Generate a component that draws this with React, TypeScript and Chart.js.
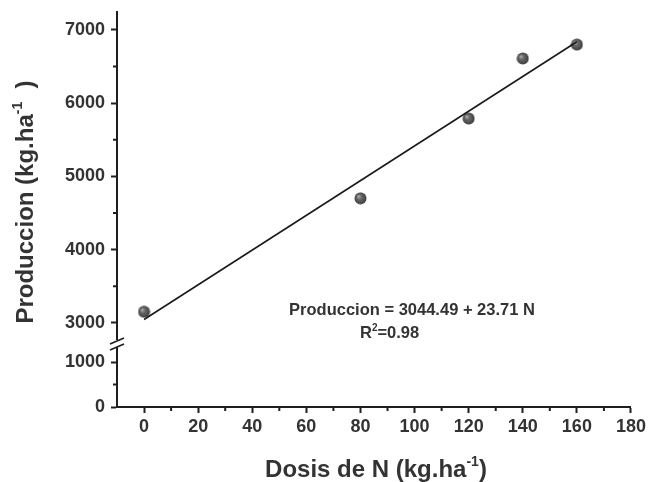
import React, { useEffect, useRef } from "react";
import { Chart, registerables } from "chart.js";

Chart.register(...registerables);

const dosisN = [0, 80, 120, 140, 160];
const produccion = [3150, 4700, 5790, 6610, 6800];
const fitX = [0, 160];
const fitY = [3044.49, 6837.99];
const xTickValues = [0, 20, 40, 60, 80, 100, 120, 140, 160, 180];
const xMinorTicks = [10, 30, 50, 70, 90, 110, 130, 150, 170];
const yTopTickValues = [3000, 4000, 5000, 6000, 7000];
const yTopMinorTicks = [3500, 4500, 5500, 6500];
const yBotTickValues = [0, 1000];
const yBotMinorTicks = [500];
const equationText = "Produccion = 3044.49 + 23.71 N";
const r2Label = "=0.98";

const FONT = "'Liberation Sans', Arial, sans-serif";
const AXIS_COLOR = "#1e1e1e";
const TEXT_COLOR = "#333333";

function makeSphere(): HTMLCanvasElement {
  const size = 13;
  const c = document.createElement("canvas");
  c.width = size;
  c.height = size;
  const ctx = c.getContext("2d")!;
  const g = ctx.createRadialGradient(4.5, 4.5, 0.5, 6.5, 6.5, 6.5);
  g.addColorStop(0, "#a8a8a8");
  g.addColorStop(0.35, "#666666");
  g.addColorStop(1, "#3a3a3a");
  ctx.fillStyle = g;
  ctx.beginPath();
  ctx.arc(6.5, 6.5, 6, 0, Math.PI * 2);
  ctx.fill();
  return c;
}

function drawSupText(
  ctx: CanvasRenderingContext2D,
  parts: { t: string; sup?: boolean }[],
  size: number,
  supSize: number,
  x: number,
  y: number,
  align: "center" | "left"
) {
  const main = `bold ${size}px ${FONT}`;
  const sup = `bold ${supSize}px ${FONT}`;
  let total = 0;
  const widths = parts.map((p) => {
    ctx.font = p.sup ? sup : main;
    const w = ctx.measureText(p.t).width;
    total += w;
    return w;
  });
  let cx = align === "center" ? x - total / 2 : x;
  ctx.textAlign = "left";
  ctx.textBaseline = "alphabetic";
  parts.forEach((p, i) => {
    ctx.font = p.sup ? sup : main;
    ctx.fillText(p.t, cx, p.sup ? y - size * 0.45 : y);
    cx += widths[i];
  });
}

const decorPlugin = {
  id: "decor",
  afterDraw(chart: any) {
    const ctx = chart.ctx as CanvasRenderingContext2D;
    const xs = chart.scales.x;
    const yt = chart.scales.yTop;
    const yb = chart.scales.yBot;
    const area = chart.chartArea;
    ctx.save();
    // minor ticks
    ctx.strokeStyle = AXIS_COLOR;
    ctx.lineWidth = 2;
    ctx.beginPath();
    xMinorTicks.forEach((v) => {
      const px = xs.getPixelForValue(v);
      ctx.moveTo(px, area.bottom);
      ctx.lineTo(px, area.bottom + 4);
    });
    yTopMinorTicks.forEach((v) => {
      const py = yt.getPixelForValue(v);
      ctx.moveTo(area.left, py);
      ctx.lineTo(area.left - 4, py);
    });
    yBotMinorTicks.forEach((v) => {
      const py = yb.getPixelForValue(v);
      ctx.moveTo(area.left, py);
      ctx.lineTo(area.left - 4, py);
    });
    ctx.stroke();

    // axis break
    const by = yt.bottom;
    ctx.fillStyle = "#ffffff";
    ctx.fillRect(area.left - 3, by - 4, 6, 7);
    ctx.strokeStyle = AXIS_COLOR;
    ctx.lineWidth = 1.6;
    ctx.beginPath();
    ctx.moveTo(area.left - 7, by);
    ctx.lineTo(area.left + 7, by - 6);
    ctx.moveTo(area.left - 7, by + 6);
    ctx.lineTo(area.left + 7, by);
    ctx.stroke();

    // titles
    ctx.fillStyle = TEXT_COLOR;
    drawSupText(
      ctx,
      [{ t: "Dosis de N (kg.ha" }, { t: "-1", sup: true }, { t: ")" }],
      24,
      14,
      (area.left + area.right) / 2 + 2,
      477,
      "center"
    );
    ctx.save();
    ctx.translate(33, 202);
    ctx.rotate(-Math.PI / 2);
    drawSupText(
      ctx,
      [{ t: "Produccion (kg.ha" }, { t: "-1", sup: true }, { t: "  )" }],
      24,
      14,
      0,
      0,
      "center"
    );
    ctx.restore();

    // equation
    drawSupText(ctx, [{ t: equationText }], 16.5, 10, 412, 315, "center");
    drawSupText(ctx, [{ t: "R" }, { t: "2", sup: true }, { t: r2Label }], 16.5, 10, 360, 338, "left");
    ctx.restore();
  },
};

export default function App() {
  const ref = useRef<HTMLCanvasElement>(null);
  useEffect(() => {
    document.body.style.margin = "0";
    const sphere = makeSphere();
    const tickFont = { family: FONT, size: 18, weight: "bold" as const };
    const plain = (v: any) => String(v);
    const fitY_ = (s: any) => {
      s.width = 117;
      s.paddingTop = 0;
      s.paddingBottom = 0;
    };
    const chart = new Chart(ref.current!, {
      type: "scatter",
      data: {
        datasets: [
          {
            label: "Produccion",
            data: dosisN.map((x, i) => ({ x, y: produccion[i] })),
            yAxisID: "yTop",
            pointStyle: sphere as any,
            pointRadius: 6,
            order: 2,
          },
          {
            label: "Ajuste",
            data: fitX.map((x, i) => ({ x, y: fitY[i] })),
            yAxisID: "yTop",
            showLine: true,
            borderColor: "#1a1a1a",
            borderWidth: 1.6,
            pointRadius: 0,
            order: 1,
          },
        ],
      },
      options: {
        animation: false,
        responsive: true,
        maintainAspectRatio: false,
        layout: { padding: { top: 12, right: 17, left: 0, bottom: 0 } },
        plugins: { legend: { display: false }, tooltip: { enabled: false } },
        scales: {
          x: {
            type: "linear",
            min: -10,
            max: 180,
            afterBuildTicks: (s: any) => {
              s.ticks = xTickValues.map((v) => ({ value: v }));
            },
            afterFit: (s: any) => {
              s.height = 75;
            },
            grid: {
              drawOnChartArea: false,
              drawTicks: true,
              tickLength: 6,
              tickWidth: 2,
              tickColor: AXIS_COLOR,
            },
            border: { color: AXIS_COLOR, width: 2 },
            ticks: { font: tickFont, color: TEXT_COLOR, padding: 3, maxRotation: 0, autoSkip: false, callback: plain },
          },
          yBot: {
            type: "linear",
            position: "left",
            stack: "y",
            stackWeight: 63,
            min: 0,
            max: 1400,
            afterBuildTicks: (s: any) => {
              s.ticks = yBotTickValues.map((v) => ({ value: v }));
            },
            afterFit: fitY_,
            grid: {
              drawOnChartArea: false,
              drawTicks: true,
              tickLength: 6,
              tickWidth: 2,
              tickColor: AXIS_COLOR,
            },
            border: { color: AXIS_COLOR, width: 2 },
            ticks: { font: tickFont, color: TEXT_COLOR, padding: 6, autoSkip: false, callback: plain },
          },
          yTop: {
            type: "linear",
            position: "left",
            stack: "y",
            stackWeight: 332,
            min: 2710,
            max: 7245,
            afterBuildTicks: (s: any) => {
              s.ticks = yTopTickValues.map((v) => ({ value: v }));
            },
            afterFit: fitY_,
            grid: {
              drawOnChartArea: false,
              drawTicks: true,
              tickLength: 6,
              tickWidth: 2,
              tickColor: AXIS_COLOR,
            },
            border: { color: AXIS_COLOR, width: 2 },
            ticks: { font: tickFont, color: TEXT_COLOR, padding: 6, autoSkip: false, callback: plain },
          },
        },
      },
      plugins: [decorPlugin],
    });
    return () => chart.destroy();
  }, []);
  return (
    <div style={{ width: 649, height: 482, position: "relative" }}>
      <canvas ref={ref} />
    </div>
  );
}
